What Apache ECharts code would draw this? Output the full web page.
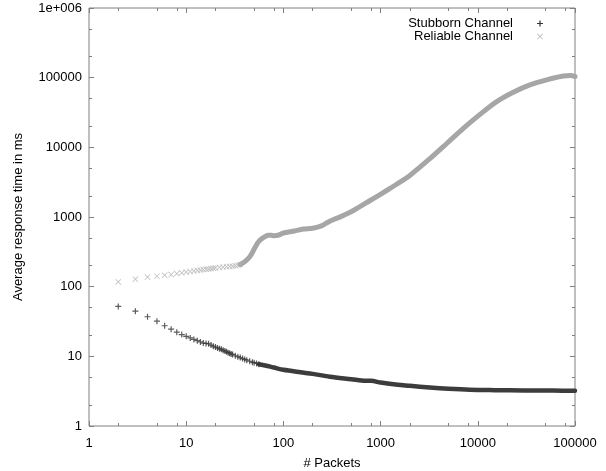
<!DOCTYPE html>
<html>
<head>
<meta charset="utf-8">
<script src="https://cdn.jsdelivr.net/npm/echarts@6/dist/echarts.min.js"></script>
<style>html,body{margin:0;padding:0;background:#fff}#c{width:606px;height:471px}</style>
</head>
<body>
<div id="c"></div>
<script>
// ---- data ----
const stubSparseX = [2,3,4,5,6,7,8,9,10,11,12,13,14,15,16,17,18,19,20,21,22,23,24,25,26,27,28,29,30,32,34,36,38,40,42,45,48,50,53,56];
const stubSparseY = [52,44.5,37,32,27.5,24.5,22.2,20.5,19.4,18.4,17.5,16.8,16.1,15.5,15.3,15.1,14.5,14,13.6,13.2,12.9,12.6,12.2,11.9,11.6,11.3,11.1,10.8,10.6,10.2,9.9,9.6,9.3,9.0,8.8,8.5,8.25,8.1,7.9,7.7];
const stubDenseX = [56,65,80,100,150,200,300,500,700,800,1000,1500,2000,3200,5000,8300,15000,30000,60000,100000];
const stubDenseY = [7.7,7.4,6.9,6.4,5.9,5.6,5.1,4.7,4.45,4.45,4.2,3.9,3.78,3.57,3.42,3.31,3.27,3.24,3.22,3.2];

const relSparseX = [2,3,4,5,6,7,8,9,10,11,12,13,14,15,16,17,18,19,20,22,24,26,28,30,32,34,36];
const relSparseY = [117,128,137,141,146,149,154,158,162,165,168,171,173,176,178,180,182,184,186,189,191,193,195,197,200,203,208];
const relDenseX = [36,40,43,45,48,50,53,55,58,60,65,70,75,80,90,100,130,160,200,250,300,400,525,780,1155,1460,2000,3220,4790,7100,10540,15640,23200,34400,51100,75800,90000,100000];
const relDenseY = [208,227,250,268,310,347,400,433,470,490,525,546,545,539,552,590,630,673,689,752,870,1030,1240,1725,2400,2950,3950,6890,11350,18750,29700,45400,61900,78700,92900,106000,107000,104000];

const xMajor = [1,10,100,1000,10000,100000];
const xMinor = [2,5,8,20,50,80,200,500,800,2000,5000,8000,20000,50000,80000];
const yMajor = [1,10,100,1000,10000,100000,1000000];
const yMinor = [2,5,20,50,200,500,2000,5000,20000,50000,200000,500000];
const xTickLabels = ['1','10','100','1000','10000','100000'];
const yTickLabels = ['1','10','100','1000','10000','100000','1e+006'];

const seriesNames = ['Stubborn Channel','Reliable Channel'];

// ---- helpers ----
const zip = (a,b) => a.map((v,i) => [v, b[i]]);
const FONT = 'Liberation Sans, Arial, sans-serif';
const FRAME = '#808080';
const PLUS = 'path://M4,0H6V4H10V6H6V10H4V6H0V4H4Z';
const CROSS = 'path://M1,0L5,4L9,0L10,1L6,5L10,9L9,10L5,6L1,10L0,9L4,5L0,1Z';
const idx = v => Math.round(Math.log10(v));

function xAx(pos, ticks, len, labels) {
  return {
    type: 'log', logBase: 10, min: 1, max: 100000, position: pos,
    axisLine: { show: false },
    splitLine: { show: false },
    axisTick: { show: true, inside: true, length: len, customValues: ticks, lineStyle: { color: FRAME, width: 1 } },
    axisLabel: labels ? { show: true, customValues: xMajor, margin: 11, color: '#000', fontSize: 13, fontFamily: FONT,
      formatter: v => xTickLabels[idx(v)] } : { show: false }
  };
}
function yAx(pos, ticks, len, labels) {
  return {
    type: 'log', logBase: 10, min: 1, max: 1000000, position: pos,
    axisLine: { show: false },
    splitLine: { show: false },
    axisTick: { show: true, inside: true, length: len, customValues: ticks, lineStyle: { color: FRAME, width: 1 } },
    axisLabel: labels ? { show: true, customValues: yMajor, margin: 7, color: '#000', fontSize: 13, fontFamily: FONT,
      formatter: v => yTickLabels[idx(v)] } : { show: false }
  };
}

const xAxes = [xAx('bottom', xMajor, 5, true), xAx('bottom', xMinor, 3, false), xAx('top', xMajor, 5, false), xAx('top', xMinor, 3, false)];
Object.assign(xAxes[0], { name: '# Packets', nameLocation: 'middle', nameGap: 31, nameTextStyle: { color: '#000', fontSize: 13, fontFamily: FONT } });
const yAxes = [yAx('left', yMajor, 5, true), yAx('left', yMinor, 3, false), yAx('right', yMajor, 5, false), yAx('right', yMinor, 3, false)];
Object.assign(yAxes[0], { name: 'Average response time in ms', nameLocation: 'middle', nameGap: 64, nameRotate: 90, nameTextStyle: { color: '#000', fontSize: 13, fontFamily: FONT } });

const chart = echarts.init(document.getElementById('c'), null, { renderer: 'canvas' });
chart.setOption({
  backgroundColor: '#fff',
  animation: false,
  grid: { left: 89, right: 31, top: 8, bottom: 45, outerBoundsMode: 'none', containLabel: false,
    show: true, borderColor: FRAME, borderWidth: 1, backgroundColor: 'transparent' },
  legend: {
    orient: 'vertical', right: 58, top: 12, align: 'right', itemGap: 0,
    itemWidth: 6, itemHeight: 6,
    textStyle: { color: '#000', fontSize: 13, fontFamily: FONT, padding: [0, 19, 0, 0] },
    data: [
      { name: seriesNames[0], icon: PLUS, itemStyle: { color: '#333' } },
      { name: seriesNames[1], icon: CROSS, itemStyle: { color: '#bbb' } }
    ]
  },
  xAxis: xAxes,
  yAxis: yAxes,
  series: [
    { name: seriesNames[1], type: 'line', data: zip(relDenseX, relDenseY), showSymbol: false, smooth: 0.3,
      lineStyle: { color: '#a6a6a6', width: 5, cap: 'round', join: 'round' }, itemStyle: { color: '#bbb' }, z: 2 },
    { name: seriesNames[1], type: 'scatter', data: zip(relSparseX, relSparseY), symbol: CROSS, symbolSize: 6,
      itemStyle: { color: '#b4b4b4' }, z: 2 },
    { name: seriesNames[0], type: 'line', data: zip(stubDenseX, stubDenseY), showSymbol: false, smooth: 0.3,
      lineStyle: { color: '#3c3c3c', width: 4.5, cap: 'round', join: 'round' }, itemStyle: { color: '#333' }, z: 3 },
    { name: seriesNames[0], type: 'scatter', data: zip(stubSparseX, stubSparseY), symbol: PLUS, symbolSize: 6,
      itemStyle: { color: '#333' }, z: 3 }
  ]
});
</script>
</body>
</html>
